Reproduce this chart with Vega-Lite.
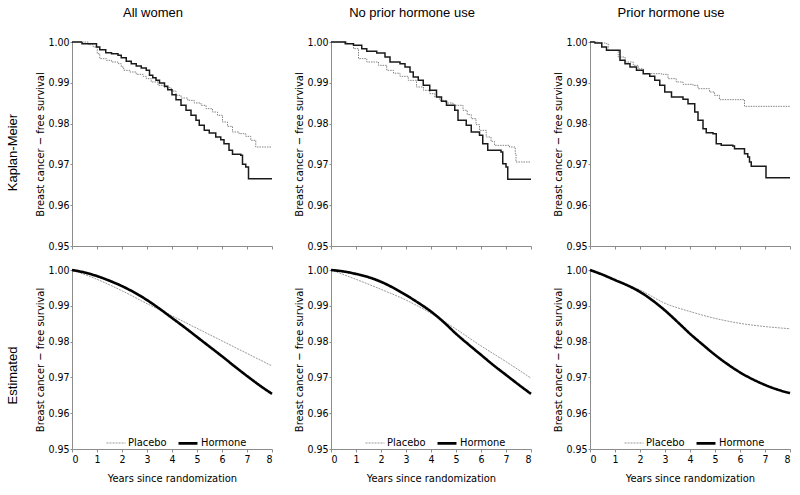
{
"$schema":"https://vega.github.io/schema/vega-lite/v6.json",
"autosize":{"type":"none"},
"padding":{"left":72,"top":42,"right":728,"bottom":453},
"background":"white",
"datasets":{
"km1":[
{"g":"Placebo","t":0,"s":1},{"g":"Placebo","t":0.65,"s":0.99935},{"g":"Placebo","t":0.85,"s":0.99877},{"g":"Placebo","t":1.01,"s":0.99714},{"g":"Placebo","t":1.11,"s":0.99592},{"g":"Placebo","t":1.38,"s":0.99551},{"g":"Placebo","t":1.58,"s":0.9951},{"g":"Placebo","t":1.84,"s":0.99469},{"g":"Placebo","t":1.97,"s":0.99387},{"g":"Placebo","t":2.07,"s":0.99306},{"g":"Placebo","t":2.31,"s":0.99265},{"g":"Placebo","t":2.57,"s":0.99208},{"g":"Placebo","t":2.84,"s":0.99158},{"g":"Placebo","t":2.97,"s":0.99101},{"g":"Placebo","t":3.17,"s":0.9902},{"g":"Placebo","t":3.44,"s":0.98938},{"g":"Placebo","t":3.7,"s":0.98881},{"g":"Placebo","t":3.97,"s":0.98799},{"g":"Placebo","t":4.16,"s":0.98693},{"g":"Placebo","t":4.36,"s":0.98627},{"g":"Placebo","t":4.63,"s":0.9857},{"g":"Placebo","t":4.89,"s":0.98505},{"g":"Placebo","t":5.16,"s":0.98448},{"g":"Placebo","t":5.36,"s":0.98366},{"g":"Placebo","t":5.62,"s":0.98284},{"g":"Placebo","t":5.82,"s":0.98203},{"g":"Placebo","t":6.02,"s":0.98039},{"g":"Placebo","t":6.22,"s":0.97933},{"g":"Placebo","t":6.42,"s":0.97794},{"g":"Placebo","t":6.68,"s":0.97753},{"g":"Placebo","t":6.95,"s":0.97688},{"g":"Placebo","t":7.15,"s":0.9759},{"g":"Placebo","t":7.35,"s":0.97426},{"g":"Placebo","t":8,"s":0.97426},
{"g":"Hormone","t":0,"s":1},{"g":"Hormone","t":0.4,"s":0.9996},{"g":"Hormone","t":0.98,"s":0.99877},{"g":"Hormone","t":1.11,"s":0.99812},{"g":"Hormone","t":1.35,"s":0.99739},{"g":"Hormone","t":1.58,"s":0.99714},{"g":"Hormone","t":1.84,"s":0.99673},{"g":"Hormone","t":1.97,"s":0.99616},{"g":"Hormone","t":2.17,"s":0.99526},{"g":"Hormone","t":2.37,"s":0.99469},{"g":"Hormone","t":2.57,"s":0.99412},{"g":"Hormone","t":2.77,"s":0.99363},{"g":"Hormone","t":2.97,"s":0.99306},{"g":"Hormone","t":3.1,"s":0.99183},{"g":"Hormone","t":3.23,"s":0.99126},{"g":"Hormone","t":3.36,"s":0.9906},{"g":"Hormone","t":3.5,"s":0.98995},{"g":"Hormone","t":3.7,"s":0.98913},{"g":"Hormone","t":3.83,"s":0.98832},{"g":"Hormone","t":4.0,"s":0.98709},{"g":"Hormone","t":4.16,"s":0.98587},{"g":"Hormone","t":4.36,"s":0.98448},{"g":"Hormone","t":4.56,"s":0.98325},{"g":"Hormone","t":4.76,"s":0.98203},{"g":"Hormone","t":4.96,"s":0.9808},{"g":"Hormone","t":5.09,"s":0.97958},{"g":"Hormone","t":5.29,"s":0.97835},{"g":"Hormone","t":5.49,"s":0.9777},{"g":"Hormone","t":5.75,"s":0.97672},{"g":"Hormone","t":5.95,"s":0.97606},{"g":"Hormone","t":6.08,"s":0.97508},{"g":"Hormone","t":6.28,"s":0.97345},{"g":"Hormone","t":6.42,"s":0.97247},{"g":"Hormone","t":6.75,"s":0.97222},{"g":"Hormone","t":6.82,"s":0.97002},{"g":"Hormone","t":6.95,"s":0.96936},{"g":"Hormone","t":7.06,"s":0.9665},{"g":"Hormone","t":8,"s":0.9665}
],
"km2":[
{"g":"Placebo","t":0,"s":1},{"g":"Placebo","t":0.64,"s":0.99959},{"g":"Placebo","t":0.9,"s":0.99837},{"g":"Placebo","t":1.1,"s":0.99592},{"g":"Placebo","t":1.43,"s":0.9951},{"g":"Placebo","t":1.9,"s":0.99428},{"g":"Placebo","t":2.23,"s":0.99306},{"g":"Placebo","t":2.5,"s":0.99235},{"g":"Placebo","t":2.76,"s":0.99158},{"g":"Placebo","t":3.09,"s":0.9906},{"g":"Placebo","t":3.42,"s":0.98897},{"g":"Placebo","t":3.7,"s":0.98815},{"g":"Placebo","t":3.95,"s":0.98734},{"g":"Placebo","t":4.15,"s":0.98652},{"g":"Placebo","t":4.35,"s":0.9857},{"g":"Placebo","t":4.6,"s":0.98505},{"g":"Placebo","t":4.88,"s":0.98448},{"g":"Placebo","t":5.28,"s":0.98325},{"g":"Placebo","t":5.45,"s":0.98221},{"g":"Placebo","t":5.61,"s":0.98121},{"g":"Placebo","t":5.8,"s":0.97975},{"g":"Placebo","t":5.94,"s":0.97835},{"g":"Placebo","t":6.21,"s":0.97672},{"g":"Placebo","t":6.4,"s":0.97565},{"g":"Placebo","t":6.54,"s":0.97467},{"g":"Placebo","t":7.14,"s":0.97426},{"g":"Placebo","t":7.37,"s":0.97263},{"g":"Placebo","t":7.4,"s":0.97059},{"g":"Placebo","t":8,"s":0.97059},
{"g":"Hormone","t":0,"s":1},{"g":"Hormone","t":0.57,"s":0.99959},{"g":"Hormone","t":0.9,"s":0.99918},{"g":"Hormone","t":1.23,"s":0.99837},{"g":"Hormone","t":1.43,"s":0.99771},{"g":"Hormone","t":1.83,"s":0.9973},{"g":"Hormone","t":2.16,"s":0.99632},{"g":"Hormone","t":2.36,"s":0.9951},{"g":"Hormone","t":2.76,"s":0.99469},{"g":"Hormone","t":2.96,"s":0.99387},{"g":"Hormone","t":3.16,"s":0.99265},{"g":"Hormone","t":3.29,"s":0.99142},{"g":"Hormone","t":3.49,"s":0.9906},{"g":"Hormone","t":3.69,"s":0.98938},{"g":"Hormone","t":3.95,"s":0.98815},{"g":"Hormone","t":4.22,"s":0.98652},{"g":"Hormone","t":4.42,"s":0.9855},{"g":"Hormone","t":4.62,"s":0.98448},{"g":"Hormone","t":4.95,"s":0.98325},{"g":"Hormone","t":5.08,"s":0.9808},{"g":"Hormone","t":5.41,"s":0.97958},{"g":"Hormone","t":5.61,"s":0.97794},{"g":"Hormone","t":5.94,"s":0.97712},{"g":"Hormone","t":6.07,"s":0.97508},{"g":"Hormone","t":6.27,"s":0.97345},{"g":"Hormone","t":6.8,"s":0.97304},{"g":"Hormone","t":6.87,"s":0.97018},{"g":"Hormone","t":7.0,"s":0.96936},{"g":"Hormone","t":7.07,"s":0.96634},{"g":"Hormone","t":8,"s":0.96634}
],
"km3":[
{"g":"Placebo","t":0,"s":1},{"g":"Placebo","t":0.33,"s":0.99975},{"g":"Placebo","t":0.66,"s":0.99959},{"g":"Placebo","t":0.73,"s":0.99796},{"g":"Placebo","t":1.13,"s":0.99632},{"g":"Placebo","t":1.4,"s":0.9951},{"g":"Placebo","t":1.73,"s":0.99428},{"g":"Placebo","t":1.93,"s":0.99346},{"g":"Placebo","t":2.13,"s":0.99224},{"g":"Placebo","t":2.86,"s":0.99208},{"g":"Placebo","t":3.12,"s":0.99101},{"g":"Placebo","t":3.45,"s":0.9902},{"g":"Placebo","t":3.72,"s":0.98962},{"g":"Placebo","t":4.12,"s":0.98938},{"g":"Placebo","t":4.32,"s":0.98856},{"g":"Placebo","t":4.78,"s":0.98775},{"g":"Placebo","t":4.98,"s":0.98693},{"g":"Placebo","t":5.18,"s":0.98587},{"g":"Placebo","t":6.18,"s":0.98423},{"g":"Placebo","t":8,"s":0.98423},
{"g":"Hormone","t":0,"s":1},{"g":"Hormone","t":0.2,"s":0.99975},{"g":"Hormone","t":0.47,"s":0.99877},{"g":"Hormone","t":0.66,"s":0.99796},{"g":"Hormone","t":1.2,"s":0.99551},{"g":"Hormone","t":1.4,"s":0.99469},{"g":"Hormone","t":1.6,"s":0.99387},{"g":"Hormone","t":1.86,"s":0.99306},{"g":"Hormone","t":2.13,"s":0.99224},{"g":"Hormone","t":2.39,"s":0.99158},{"g":"Hormone","t":2.59,"s":0.9906},{"g":"Hormone","t":2.79,"s":0.98938},{"g":"Hormone","t":2.99,"s":0.98775},{"g":"Hormone","t":3.26,"s":0.98652},{"g":"Hormone","t":3.72,"s":0.98595},{"g":"Hormone","t":3.92,"s":0.98489},{"g":"Hormone","t":4.19,"s":0.98284},{"g":"Hormone","t":4.32,"s":0.9808},{"g":"Hormone","t":4.52,"s":0.97876},{"g":"Hormone","t":4.65,"s":0.97778},{"g":"Hormone","t":4.92,"s":0.97753},{"g":"Hormone","t":5.05,"s":0.97508},{"g":"Hormone","t":5.25,"s":0.97467},{"g":"Hormone","t":5.71,"s":0.97451},{"g":"Hormone","t":5.78,"s":0.97386},{"g":"Hormone","t":6.18,"s":0.97263},{"g":"Hormone","t":6.31,"s":0.97181},{"g":"Hormone","t":6.38,"s":0.97059},{"g":"Hormone","t":6.45,"s":0.96953},{"g":"Hormone","t":7.04,"s":0.96675},{"g":"Hormone","t":8,"s":0.96675}
],
"est1":[
{"g":"Placebo","t":0,"s":1},{"g":"Placebo","t":1,"s":0.9974},{"g":"Placebo","t":2,"s":0.9942},{"g":"Placebo","t":3,"s":0.9906},{"g":"Placebo","t":4,"s":0.9872},{"g":"Placebo","t":5,"s":0.9837},{"g":"Placebo","t":6,"s":0.9802},{"g":"Placebo","t":7,"s":0.9767},{"g":"Placebo","t":8,"s":0.9732},
{"g":"Hormone","t":0,"s":1},{"g":"Hormone","t":0.5,"s":0.9993},{"g":"Hormone","t":1,"s":0.9983},{"g":"Hormone","t":1.5,"s":0.997},{"g":"Hormone","t":2,"s":0.9955},{"g":"Hormone","t":2.5,"s":0.9937},{"g":"Hormone","t":3,"s":0.9916},{"g":"Hormone","t":3.5,"s":0.9892},{"g":"Hormone","t":4,"s":0.9866},{"g":"Hormone","t":4.5,"s":0.984},{"g":"Hormone","t":5,"s":0.9813},{"g":"Hormone","t":5.5,"s":0.9786},{"g":"Hormone","t":6,"s":0.9759},{"g":"Hormone","t":6.5,"s":0.9731},{"g":"Hormone","t":7,"s":0.9704},{"g":"Hormone","t":7.5,"s":0.9678},{"g":"Hormone","t":8,"s":0.9654}
],
"est2":[
{"g":"Placebo","t":0,"s":1},{"g":"Placebo","t":1,"s":0.9974},{"g":"Placebo","t":2,"s":0.9946},{"g":"Placebo","t":3,"s":0.9916},{"g":"Placebo","t":4,"s":0.9879},{"g":"Placebo","t":5,"s":0.9835},{"g":"Placebo","t":6,"s":0.9788},{"g":"Placebo","t":7,"s":0.9744},{"g":"Placebo","t":8,"s":0.9698},
{"g":"Hormone","t":0,"s":1},{"g":"Hormone","t":0.5,"s":0.9996},{"g":"Hormone","t":1,"s":0.9989},{"g":"Hormone","t":1.5,"s":0.998},{"g":"Hormone","t":2,"s":0.9967},{"g":"Hormone","t":2.5,"s":0.995},{"g":"Hormone","t":3,"s":0.993},{"g":"Hormone","t":3.5,"s":0.9908},{"g":"Hormone","t":4,"s":0.9884},{"g":"Hormone","t":4.5,"s":0.9855},{"g":"Hormone","t":5,"s":0.9822},{"g":"Hormone","t":5.5,"s":0.9792},{"g":"Hormone","t":6,"s":0.9763},{"g":"Hormone","t":6.5,"s":0.9734},{"g":"Hormone","t":7,"s":0.9707},{"g":"Hormone","t":7.5,"s":0.968},{"g":"Hormone","t":8,"s":0.9654}
],
"est3":[
{"g":"Placebo","t":0,"s":1},{"g":"Placebo","t":0.5,"s":0.9987},{"g":"Placebo","t":1,"s":0.9972},{"g":"Placebo","t":1.5,"s":0.9958},{"g":"Placebo","t":2,"s":0.9944},{"g":"Placebo","t":3,"s":0.9907},{"g":"Placebo","t":4,"s":0.9884},{"g":"Placebo","t":5,"s":0.9865},{"g":"Placebo","t":6,"s":0.9851},{"g":"Placebo","t":7,"s":0.9842},{"g":"Placebo","t":8,"s":0.9836},
{"g":"Hormone","t":0,"s":1},{"g":"Hormone","t":0.5,"s":0.9987},{"g":"Hormone","t":1,"s":0.9972},{"g":"Hormone","t":1.5,"s":0.9957},{"g":"Hormone","t":2,"s":0.9939},{"g":"Hormone","t":2.5,"s":0.9915},{"g":"Hormone","t":3,"s":0.9887},{"g":"Hormone","t":3.5,"s":0.9855},{"g":"Hormone","t":4,"s":0.9822},{"g":"Hormone","t":4.5,"s":0.9792},{"g":"Hormone","t":5,"s":0.9763},{"g":"Hormone","t":5.5,"s":0.9737},{"g":"Hormone","t":6,"s":0.9714},{"g":"Hormone","t":6.5,"s":0.9695},{"g":"Hormone","t":7,"s":0.9679},{"g":"Hormone","t":7.5,"s":0.9666},{"g":"Hormone","t":8,"s":0.9656}
]
},
"columns":3,
"spacing":{"row":24,"column":59},
"bounds":"flush",
"concat":[
{"width":200,"height":204,"title":{"text":"All women","dx":-19},"data":{"name":"km1"},
 "layer":[
  {"transform":[{"filter":"datum.g === 'Placebo'"}],"mark":{"type":"line","interpolate":"step-after"},
   "encoding":{
    "x":{"field":"t","type":"quantitative","scale":{"domain":[0,8],"nice":false},"axis":{"values":[0,1,2,3,4,5,6,7,8],"labels":false,"title":null,"tickSize":3}},
    "y":{"field":"s","type":"quantitative","scale":{"domain":[0.95,1],"zero":false,"nice":false},"axis":{"values":[0.95,0.96,0.97,0.98,0.99,1],"format":".2f","tickSize":2,"labelPadding":1,"title":"Breast cancer − free survival","titleX":-32,"titleBaseline":"middle"}},
    "color":{"field":"g","type":"nominal","scale":{"domain":["Placebo","Hormone"],"range":["#858585","#1a1a1a"]},"legend":null},
    "strokeDash":{"field":"g","type":"nominal","scale":{"domain":["Placebo","Hormone"],"range":[[1.5,1],[1,0]]},"legend":null},
    "strokeWidth":{"field":"g","type":"ordinal","scale":{"domain":["Placebo","Hormone"],"range":[1,1.5]},"legend":null}}},
  {"transform":[{"filter":"datum.g === 'Hormone'"}],"mark":{"type":"line","interpolate":"step-after"},
   "encoding":{
    "x":{"field":"t","type":"quantitative","scale":{"domain":[0,8],"nice":false},"axis":{"values":[0,1,2,3,4,5,6,7,8],"labels":false,"title":null,"tickSize":3}},
    "y":{"field":"s","type":"quantitative","scale":{"domain":[0.95,1],"zero":false,"nice":false},"axis":{"orient":"left","labels":false,"ticks":false,"domain":false,"title":"Kaplan-Meier","titleX":-60,"titleY":110,"titleBaseline":"middle","titleFont":"Liberation Sans","titleFontSize":13}},
    "color":{"field":"g","type":"nominal","scale":{"domain":["Placebo","Hormone"],"range":["#858585","#1a1a1a"]},"legend":null},
    "strokeDash":{"field":"g","type":"nominal","scale":{"domain":["Placebo","Hormone"],"range":[[1.5,1],[1,0]]},"legend":null},
    "strokeWidth":{"field":"g","type":"ordinal","scale":{"domain":["Placebo","Hormone"],"range":[1,1.5]},"legend":null}}}
 ],
 "resolve":{"scale":{"y":"independent"},"axis":{"y":"independent"}}},
{"width":200,"height":204,"title":{"text":"No prior hormone use","dx":-19},"data":{"name":"km2"},"mark":{"type":"line","interpolate":"step-after"},
 "encoding":{
  "x":{"field":"t","type":"quantitative","scale":{"domain":[0,8],"nice":false},"axis":{"values":[0,1,2,3,4,5,6,7,8],"labels":false,"title":null,"tickSize":3}},
  "y":{"field":"s","type":"quantitative","scale":{"domain":[0.95,1],"zero":false,"nice":false},"axis":{"values":[0.95,0.96,0.97,0.98,0.99,1],"format":".2f","tickSize":2,"labelPadding":1,"title":"Breast cancer − free survival","titleX":-32,"titleBaseline":"middle"}},
  "color":{"field":"g","type":"nominal","scale":{"domain":["Placebo","Hormone"],"range":["#858585","#1a1a1a"]},"legend":null},
  "strokeDash":{"field":"g","type":"nominal","scale":{"domain":["Placebo","Hormone"],"range":[[1.5,1],[1,0]]},"legend":null},
  "strokeWidth":{"field":"g","type":"ordinal","scale":{"domain":["Placebo","Hormone"],"range":[1,1.5]},"legend":null}}},
{"width":200,"height":204,"title":{"text":"Prior hormone use","dx":-19},"data":{"name":"km3"},"mark":{"type":"line","interpolate":"step-after"},
 "encoding":{
  "x":{"field":"t","type":"quantitative","scale":{"domain":[0,8],"nice":false},"axis":{"values":[0,1,2,3,4,5,6,7,8],"labels":false,"title":null,"tickSize":3}},
  "y":{"field":"s","type":"quantitative","scale":{"domain":[0.95,1],"zero":false,"nice":false},"axis":{"values":[0.95,0.96,0.97,0.98,0.99,1],"format":".2f","tickSize":2,"labelPadding":1,"title":"Breast cancer − free survival","titleX":-32,"titleBaseline":"middle"}},
  "color":{"field":"g","type":"nominal","scale":{"domain":["Placebo","Hormone"],"range":["#858585","#1a1a1a"]},"legend":null},
  "strokeDash":{"field":"g","type":"nominal","scale":{"domain":["Placebo","Hormone"],"range":[[1.5,1],[1,0]]},"legend":null},
  "strokeWidth":{"field":"g","type":"ordinal","scale":{"domain":["Placebo","Hormone"],"range":[1,1.5]},"legend":null}}},
{"width":200,"height":179,"data":{"name":"est1"},
 "layer":[
  {"transform":[{"filter":"datum.g === 'Placebo'"}],"mark":{"type":"line","interpolate":"monotone"},
   "encoding":{
    "x":{"field":"t","type":"quantitative","scale":{"domain":[0,8],"nice":false},"axis":{"values":[0,1,2,3,4,5,6,7,8],"format":"d","tickSize":3,"labelPadding":2,"title":"Years since randomization","titlePadding":8}},
    "y":{"field":"s","type":"quantitative","scale":{"domain":[0.95,1],"zero":false,"nice":false},"axis":{"values":[0.95,0.96,0.97,0.98,0.99,1],"format":".2f","tickSize":2,"labelPadding":1,"title":"Breast cancer − free survival","titleX":-32,"titleBaseline":"middle"}},
    "color":{"field":"g","type":"nominal","scale":{"domain":["Placebo","Hormone"],"range":["#9a9a9a","#000000"]},"legend":{"orient":"none","legendX":34,"legendY":162,"direction":"horizontal","title":null,"symbolType":"stroke","symbolSize":360,"labelOffset":2,"columnPadding":6}},
    "strokeDash":{"field":"g","type":"nominal","scale":{"domain":["Placebo","Hormone"],"range":[[2,1],[1,0]]},"legend":{"orient":"none","legendX":34,"legendY":162,"direction":"horizontal","title":null,"symbolType":"stroke","symbolSize":360,"labelOffset":2,"columnPadding":6}},
    "strokeWidth":{"field":"g","type":"ordinal","scale":{"domain":["Placebo","Hormone"],"range":[1,2.6]},"legend":{"orient":"none","legendX":34,"legendY":162,"direction":"horizontal","title":null,"symbolType":"stroke","symbolSize":360,"labelOffset":2,"columnPadding":6}}}},
  {"transform":[{"filter":"datum.g === 'Hormone'"}],"mark":{"type":"line","interpolate":"monotone"},
   "encoding":{
    "x":{"field":"t","type":"quantitative","scale":{"domain":[0,8],"nice":false},"axis":{"values":[0,1,2,3,4,5,6,7,8],"format":"d","tickSize":3,"labelPadding":2,"title":"Years since randomization","titlePadding":8}},
    "y":{"field":"s","type":"quantitative","scale":{"domain":[0.95,1],"zero":false,"nice":false},"axis":{"orient":"left","labels":false,"ticks":false,"domain":false,"title":"Estimated","titleX":-60,"titleY":105,"titleBaseline":"middle","titleFont":"Liberation Sans","titleFontSize":13}},
    "color":{"field":"g","type":"nominal","scale":{"domain":["Placebo","Hormone"],"range":["#9a9a9a","#000000"]},"legend":{"orient":"none","legendX":34,"legendY":162,"direction":"horizontal","title":null,"symbolType":"stroke","symbolSize":360,"labelOffset":2,"columnPadding":6}},
    "strokeDash":{"field":"g","type":"nominal","scale":{"domain":["Placebo","Hormone"],"range":[[2,1],[1,0]]},"legend":{"orient":"none","legendX":34,"legendY":162,"direction":"horizontal","title":null,"symbolType":"stroke","symbolSize":360,"labelOffset":2,"columnPadding":6}},
    "strokeWidth":{"field":"g","type":"ordinal","scale":{"domain":["Placebo","Hormone"],"range":[1,2.6]},"legend":{"orient":"none","legendX":34,"legendY":162,"direction":"horizontal","title":null,"symbolType":"stroke","symbolSize":360,"labelOffset":2,"columnPadding":6}}}}
 ],
 "resolve":{"scale":{"y":"independent"},"axis":{"y":"independent"}}},
{"width":200,"height":179,"data":{"name":"est2"},"mark":{"type":"line","interpolate":"monotone"},
 "encoding":{
  "x":{"field":"t","type":"quantitative","scale":{"domain":[0,8],"nice":false},"axis":{"values":[0,1,2,3,4,5,6,7,8],"format":"d","tickSize":3,"labelPadding":2,"title":"Years since randomization","titlePadding":8}},
  "y":{"field":"s","type":"quantitative","scale":{"domain":[0.95,1],"zero":false,"nice":false},"axis":{"values":[0.95,0.96,0.97,0.98,0.99,1],"format":".2f","tickSize":2,"labelPadding":1,"title":"Breast cancer − free survival","titleX":-32,"titleBaseline":"middle"}},
  "color":{"field":"g","type":"nominal","scale":{"domain":["Placebo","Hormone"],"range":["#9a9a9a","#000000"]},"legend":{"orient":"none","legendX":34,"legendY":162,"direction":"horizontal","title":null,"symbolType":"stroke","symbolSize":360,"labelOffset":2,"columnPadding":6}},
  "strokeDash":{"field":"g","type":"nominal","scale":{"domain":["Placebo","Hormone"],"range":[[2,1],[1,0]]},"legend":{"orient":"none","legendX":34,"legendY":162,"direction":"horizontal","title":null,"symbolType":"stroke","symbolSize":360,"labelOffset":2,"columnPadding":6}},
  "strokeWidth":{"field":"g","type":"ordinal","scale":{"domain":["Placebo","Hormone"],"range":[1,2.6]},"legend":{"orient":"none","legendX":34,"legendY":162,"direction":"horizontal","title":null,"symbolType":"stroke","symbolSize":360,"labelOffset":2,"columnPadding":6}}}},
{"width":200,"height":179,"data":{"name":"est3"},"mark":{"type":"line","interpolate":"monotone"},
 "encoding":{
  "x":{"field":"t","type":"quantitative","scale":{"domain":[0,8],"nice":false},"axis":{"values":[0,1,2,3,4,5,6,7,8],"format":"d","tickSize":3,"labelPadding":2,"title":"Years since randomization","titlePadding":8}},
  "y":{"field":"s","type":"quantitative","scale":{"domain":[0.95,1],"zero":false,"nice":false},"axis":{"values":[0.95,0.96,0.97,0.98,0.99,1],"format":".2f","tickSize":2,"labelPadding":1,"title":"Breast cancer − free survival","titleX":-32,"titleBaseline":"middle"}},
  "color":{"field":"g","type":"nominal","scale":{"domain":["Placebo","Hormone"],"range":["#9a9a9a","#000000"]},"legend":{"orient":"none","legendX":34,"legendY":162,"direction":"horizontal","title":null,"symbolType":"stroke","symbolSize":360,"labelOffset":2,"columnPadding":6}},
  "strokeDash":{"field":"g","type":"nominal","scale":{"domain":["Placebo","Hormone"],"range":[[2,1],[1,0]]},"legend":{"orient":"none","legendX":34,"legendY":162,"direction":"horizontal","title":null,"symbolType":"stroke","symbolSize":360,"labelOffset":2,"columnPadding":6}},
  "strokeWidth":{"field":"g","type":"ordinal","scale":{"domain":["Placebo","Hormone"],"range":[1,2.6]},"legend":{"orient":"none","legendX":34,"legendY":162,"direction":"horizontal","title":null,"symbolType":"stroke","symbolSize":360,"labelOffset":2,"columnPadding":6}}}}
],
"resolve":{"scale":{"color":"independent","strokeDash":"independent","strokeWidth":"independent"},"legend":{"color":"independent","strokeDash":"independent","strokeWidth":"independent"}},
"config":{
 "view":{"stroke":null},
 "axis":{"grid":false,"domainColor":"#8c8c8c","tickColor":"#8c8c8c","labelColor":"#000000","titleColor":"#000000","labelFont":"Liberation Sans Narrow, Arial Narrow, DejaVu Sans Condensed, sans-serif","titleFont":"Liberation Sans Narrow, Arial Narrow, DejaVu Sans Condensed, sans-serif","labelFontSize":10.5,"titleFontSize":11,"titleFontWeight":"normal"},
 "legend":{"labelFont":"Liberation Sans Narrow, Arial Narrow, DejaVu Sans Condensed, sans-serif","labelFontSize":11,"labelColor":"#000000","symbolOpacity":1},
 "title":{"font":"Liberation Sans","fontSize":13,"fontWeight":"normal","color":"#000000","anchor":"middle","frame":"group","offset":17,"baseline":"alphabetic"}
}
}
